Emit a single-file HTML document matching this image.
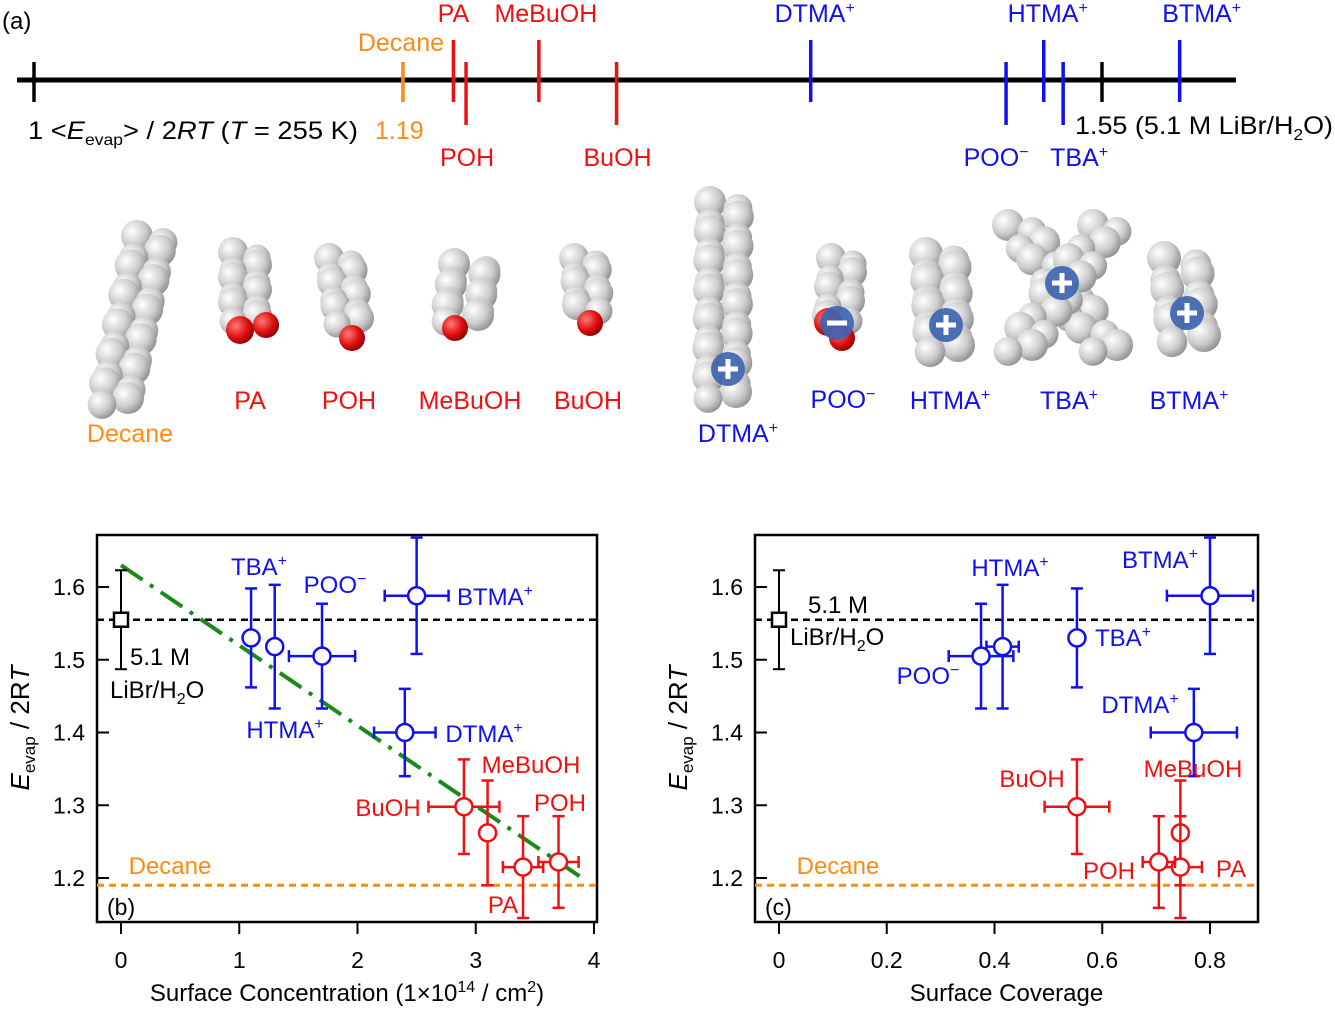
<!DOCTYPE html>
<html><head><meta charset="utf-8"><style>
body{margin:0;background:#fff;}
svg{display:block;font-family:"Liberation Sans",sans-serif;}
</style></head><body>
<svg id="fig" width="1335" height="1010" viewBox="0 0 1335 1010" xmlns="http://www.w3.org/2000/svg">
<defs>
<radialGradient id="gw" cx="0.35" cy="0.35" r="0.7"><stop offset="0" stop-color="#ffffff"/><stop offset="0.6" stop-color="#cccccc"/><stop offset="1" stop-color="#909090"/></radialGradient>
<radialGradient id="gr" cx="0.35" cy="0.35" r="0.7"><stop offset="0" stop-color="#ff7a7a"/><stop offset="0.6" stop-color="#e01010"/><stop offset="1" stop-color="#900000"/></radialGradient>
</defs>
<g id="panelA"></g>
<g id="mols"></g>
<g id="panelB"></g>
<g id="panelC"></g>
</svg>
<script>
const NS="http://www.w3.org/2000/svg";
const BLUE="#1010f0",RED="#f01010",ORANGE="#ff8a14",GREEN="#1a8a1a";
function mk(parent,tag,attrs,txt){const e=document.createElementNS(NS,tag);for(const k in attrs)e.setAttribute(k,attrs[k]);if(txt!==undefined)e.innerHTML=txt;parent.appendChild(e);return e;}

// ---------- Panel (a) data ----------
const aNames=["Decane","PA","POH","MeBuOH","BuOH","DTMA<tspan font-size='16' dy='-9'>+</tspan>","POO<tspan font-size='16' dy='-9'>−</tspan>","HTMA<tspan font-size='16' dy='-9'>+</tspan>","TBA<tspan font-size='16' dy='-9'>+</tspan>","BTMA<tspan font-size='16' dy='-9'>+</tspan>"];
const aValues=[1.19,1.216,1.2225,1.26,1.30,1.40,1.5006,1.52,1.53,1.59];
const aKinds=["o","r","r","r","r","b","b","b","b","b"];
const aUp=[0,1,0,1,0,1,0,1,0,1];

const A=document.getElementById('panelA');
const ax=v=>34+(v-1)*1941.8;
mk(A,'text',{x:2,y:29,'font-size':24},'(a)');
let ln=mk(A,'line',{x1:17,x2:1236,y1:80,y2:80,stroke:'#000','stroke-width':5});

[1,1.55].forEach(v=>{const t=mk(A,'line',{x1:ax(v),x2:ax(v),y1:62,y2:102,stroke:'#000','stroke-width':3.5});
});
mk(A,'text',{x:28,y:139,'font-size':25,textLength:330,lengthAdjust:'spacingAndGlyphs'},'1 &lt;<tspan font-style="italic">E</tspan><tspan font-size="16" dy="6">evap</tspan><tspan dy="-6">&gt; / 2</tspan><tspan font-style="italic">RT</tspan> (<tspan font-style="italic">T</tspan> = 255 K)');
mk(A,'text',{x:375,y:139,'font-size':25,fill:ORANGE},'1.19');
mk(A,'text',{x:1075,y:134,'font-size':25,textLength:258,lengthAdjust:'spacingAndGlyphs'},'1.55 (5.1 M LiBr/H<tspan font-size="16" dy="6">2</tspan><tspan dy="-6">O)</tspan>');
aValues.forEach((v,i)=>{
  const col=aKinds[i]=="o"?ORANGE:aKinds[i]=="r"?RED:BLUE;
  const x=ax(v);
  const m=mk(A,'line',{x1:x,x2:x,y1:(i==0?62:(aUp[i]?40:62)),y2:(i==0?102:(aUp[i]?102:125)),stroke:col,'stroke-width':3.5});
  
  let lx,ly;
  if(i==0){lx=x-2;ly=51;}
  else if(aUp[i]){lx=x+(i==3?7:i==9?22:(i==5||i==7?4:0));ly=22;}
  else {lx=x+(i==6?-10:i==8?16:1);ly=166;}
  const t=mk(A,'text',{x:lx,y:ly,'font-size':25,fill:col,'text-anchor':'middle'},aNames[i]);
  
});

// ---------- Molecules ----------
const M=document.getElementById('mols');
function chain(x1,y1,x2,y2,n,r,zig){
  for(let k=0;k<n;k++){const f=k/(n-1);const z=(k%2?1:-1)*zig;
    mk(M,'circle',{cx:x1+(x2-x1)*f+z,cy:y1+(y2-y1)*f,r:r,fill:'url(#gw)'});
    mk(M,'circle',{cx:x1+(x2-x1)*f-z,cy:y1+(y2-y1)*f+r*0.4,r:r*0.9,fill:'url(#gw)'});}
}
function ball(x,y,r,g){mk(M,'circle',{cx:x,cy:y,r:r,fill:g});}
function ion(x,y,plus){mk(M,'circle',{cx:x,cy:y,r:17,fill:'#3f64b0','fill-opacity':0.92});
  mk(M,'rect',{x:x-10,y:y-2.5,width:20,height:5,fill:'#fff'});
  if(plus)mk(M,'rect',{x:x-2.5,y:y-10,width:5,height:20,fill:'#fff'});}
chain(150,236,115,398,12,16,13);
chain(245,252,245,315,6,15,12); ball(240,330,14,'url(#gr)'); ball(266,325,13,'url(#gr)');
chain(340,258,348,318,6,15,11); ball(352,338,13,'url(#gr)');
chain(470,264,462,315,6,16,16); ball(455,328,13,'url(#gr)');
chain(585,258,588,305,5,15,11); ball(590,323,13,'url(#gr)');
chain(724,202,722,392,14,16,14); ion(728,369,true);
chain(842,258,838,315,5,15,11); ball(828,322,14,'url(#gr)'); ball(842,338,13,'url(#gr)'); ion(837,323,false);
chain(940,254,944,345,8,17,14); ion(946,325,true);
chain(1020,225,1105,345,8,16,12); chain(1105,225,1020,345,8,16,12); ion(1062,283,true);
chain(1180,258,1188,335,6,17,16); ion(1187,313,true);
const mNames=["Decane","PA","POH","MeBuOH","BuOH","DTMA<tspan font-size='16' dy='-9'>+</tspan>","POO<tspan font-size='16' dy='-9'>−</tspan>","HTMA<tspan font-size='16' dy='-9'>+</tspan>","TBA<tspan font-size='16' dy='-9'>+</tspan>","BTMA<tspan font-size='16' dy='-9'>+</tspan>"];
const mLX=[130,250,349,470,588,738,843,950,1069,1189];
const mLY=[442,409,409,409,409,442,408,409,409,409];
mNames.forEach((n,i)=>{const t=mk(M,'text',{x:mLX[i],y:mLY[i],'font-size':25,'text-anchor':'middle',fill:aKinds[i]=="o"?ORANGE:aKinds[i]=="r"?RED:BLUE},n);
});

// ---------- Panels b, c data ----------
const species=["TBA","HTMA","POO","BTMA","DTMA","BuOH","MeBuOH","PA","POH"];
const speciesColor=["b","b","b","b","b","r","r","r","r"];
const energy=[1.53,1.518,1.505,1.588,1.40,1.298,1.262,1.215,1.222];
const energyErr=[0.068,0.085,0.072,0.08,0.06,0.065,0.072,0.07,0.063];
const concB=[1.1,1.3,1.7,2.5,2.4,2.9,3.1,3.4,3.7];
const concErrB=[0.03,0.05,0.28,0.27,0.26,0.3,0.05,0.17,0.17];
const covC=[0.553,0.415,0.375,0.80,0.77,0.553,0.745,0.745,0.705];
const covErrC=[0.01,0.03,0.06,0.08,0.08,0.06,0.01,0.04,0.03];
const refY=1.555, refErr=0.068, decaneY=1.19;
const fitLine=[[0,1.63],[3.9,1.20]];
const yTicks=[1.2,1.3,1.4,1.5,1.6];
const xTicksB=["0","1","2","3","4"];
const xTicksC=["0","0.2","0.4","0.6","0.8"];

function panel(G,L,R,x0px,xscale,xs,xerr,xticks,tickVals,title,tag,labels,fit){
  const T=535,B=922;
  const X=v=>x0px+v*xscale, Y=v=>587+(1.6-v)*727.5;
  const fr=mk(G,'rect',{x:L,y:T,width:R-L,height:B-T,fill:'none',stroke:'#000','stroke-width':2.5});
  
  yTicks.forEach(v=>{mk(G,'line',{x1:L,x2:L+12,y1:Y(v),y2:Y(v),stroke:'#000','stroke-width':2});
    const t=mk(G,'text',{x:L-12,y:Y(v)+8,'font-size':23,'text-anchor':'end'},v.toFixed(1));
    });
  tickVals.forEach((v,i)=>{mk(G,'line',{x1:X(v),x2:X(v),y1:B,y2:B+12,stroke:'#000','stroke-width':2});
    const t=mk(G,'text',{x:X(v),y:968,'font-size':23,'text-anchor':'middle'},xticks[i]);
    });
  const xt=mk(G,'text',{x:(L+R)/2,y:1001,'font-size':24,'text-anchor':'middle'},title);
  
  const yt=mk(G,'text',{x:0,y:0,'font-size':26,'text-anchor':'middle',transform:`translate(${L-68},728) rotate(-90)`},'<tspan font-style="italic">E</tspan><tspan font-size="17" dy="6">evap</tspan><tspan dy="-6"> / 2R</tspan><tspan font-style="italic">T</tspan>');
  
  const d1=mk(G,'line',{x1:L,x2:R,y1:Y(refY),y2:Y(refY),stroke:'#000','stroke-width':2.5,'stroke-dasharray':'7,5'});
  
  const d2=mk(G,'line',{x1:L,x2:R,y1:Y(decaneY),y2:Y(decaneY),stroke:ORANGE,'stroke-width':3,'stroke-dasharray':'7,5'});
  
  if(fit){const f=mk(G,'line',{x1:X(fitLine[0][0]),y1:Y(fitLine[0][1]),x2:X(fitLine[1][0]),y2:Y(fitLine[1][1]),stroke:GREEN,'stroke-width':4,'stroke-dasharray':'26,9,4,9'});
    }
  const rx=X(0),ry=Y(refY);
  mk(G,'line',{x1:rx,x2:rx,y1:Y(refY+refErr),y2:Y(refY-refErr),stroke:'#000','stroke-width':2});
  mk(G,'line',{x1:rx-6,x2:rx+6,y1:Y(refY+refErr),y2:Y(refY+refErr),stroke:'#000','stroke-width':2});
  mk(G,'line',{x1:rx-6,x2:rx+6,y1:Y(refY-refErr),y2:Y(refY-refErr),stroke:'#000','stroke-width':2});
  const rp=mk(G,'rect',{x:rx-7,y:ry-7,width:14,height:14,fill:'#fff',stroke:'#000','stroke-width':2.5});
  
  species.forEach((s,i)=>{
    const col=speciesColor[i]=="b"?BLUE:RED;const cx=X(xs[i]),cy=Y(energy[i]);
    const y1=Y(energy[i]+energyErr[i]),y2=Y(energy[i]-energyErr[i]),xa=X(xs[i]-xerr[i]),xb=X(xs[i]+xerr[i]);
    const g=mk(G,'g',{});
    
    mk(g,'line',{x1:cx,x2:cx,y1:y1,y2:y2,stroke:col,'stroke-width':2.5});
    mk(g,'line',{x1:cx-6,x2:cx+6,y1:y1,y2:y1,stroke:col,'stroke-width':2.5});
    mk(g,'line',{x1:cx-6,x2:cx+6,y1:y2,y2:y2,stroke:col,'stroke-width':2.5});
    mk(g,'line',{x1:xa,x2:xb,y1:cy,y2:cy,stroke:col,'stroke-width':2.5});
    mk(g,'line',{x1:xa,x2:xa,y1:cy-6,y2:cy+6,stroke:col,'stroke-width':2.5});
    mk(g,'line',{x1:xb,x2:xb,y1:cy-6,y2:cy+6,stroke:col,'stroke-width':2.5});
    mk(g,'circle',{cx:cx,cy:cy,r:8.5,fill:'#fff',stroke:col,'stroke-width':2.5});
  });
  labels.forEach(l=>{const t=mk(G,'text',{x:l[0],y:l[1],'font-size':24,'text-anchor':l[4]||'middle',fill:l[3]},l[2]);
    });
  mk(G,'text',{x:L+10,y:tag[1],'font-size':23},tag[0]);
}
const sup=s=>`<tspan font-size='16' dy='-9'>${s}</tspan>`;
panel(document.getElementById('panelB'),97,597,121,118.25,concB,concErrB,xTicksB,[0,1,2,3,4],
 'Surface Concentration (1×10<tspan font-size="16" dy="-9">14</tspan><tspan dy="9"> / cm</tspan><tspan font-size="16" dy="-9">2</tspan><tspan dy="9">)</tspan>',['(b)',915],
 [[259,575,'TBA'+sup('+'),BLUE],[335,593,'POO'+sup('−'),BLUE],[495,605,'BTMA'+sup('+'),BLUE],[285,738,'HTMA'+sup('+'),BLUE],[484,742,'DTMA'+sup('+'),BLUE],
  [531,773,'MeBuOH',RED],[388,816,'BuOH',RED],[560,811,'POH',RED],[503,913,'PA',RED],[130,665,'5.1 M','#000','start'],
  [110,698,'LiBr/H<tspan font-size="16" dy="6">2</tspan><tspan dy="-6">O</tspan>','#000','start'],[170,874,'Decane',ORANGE]],true);
panel(document.getElementById('panelC'),755,1258,779,538.75,covC,covErrC,xTicksC,[0,0.2,0.4,0.6,0.8],'Surface Coverage',['(c)',915],
 [[1010,576,'HTMA'+sup('+'),BLUE],[1160,568,'BTMA'+sup('+'),BLUE],[1123,646,'TBA'+sup('+'),BLUE],[928,684,'POO'+sup('−'),BLUE],[1140,713,'DTMA'+sup('+'),BLUE],
  [1032,787,'BuOH',RED],[1193,777,'MeBuOH',RED],[1109,879,'POH',RED],[1231,877,'PA',RED],[808,613,'5.1 M','#000','start'],
  [790,645,'LiBr/H<tspan font-size="16" dy="6">2</tspan><tspan dy="-6">O</tspan>','#000','start'],[838,874,'Decane',ORANGE]],false);
</script>
</body></html>
